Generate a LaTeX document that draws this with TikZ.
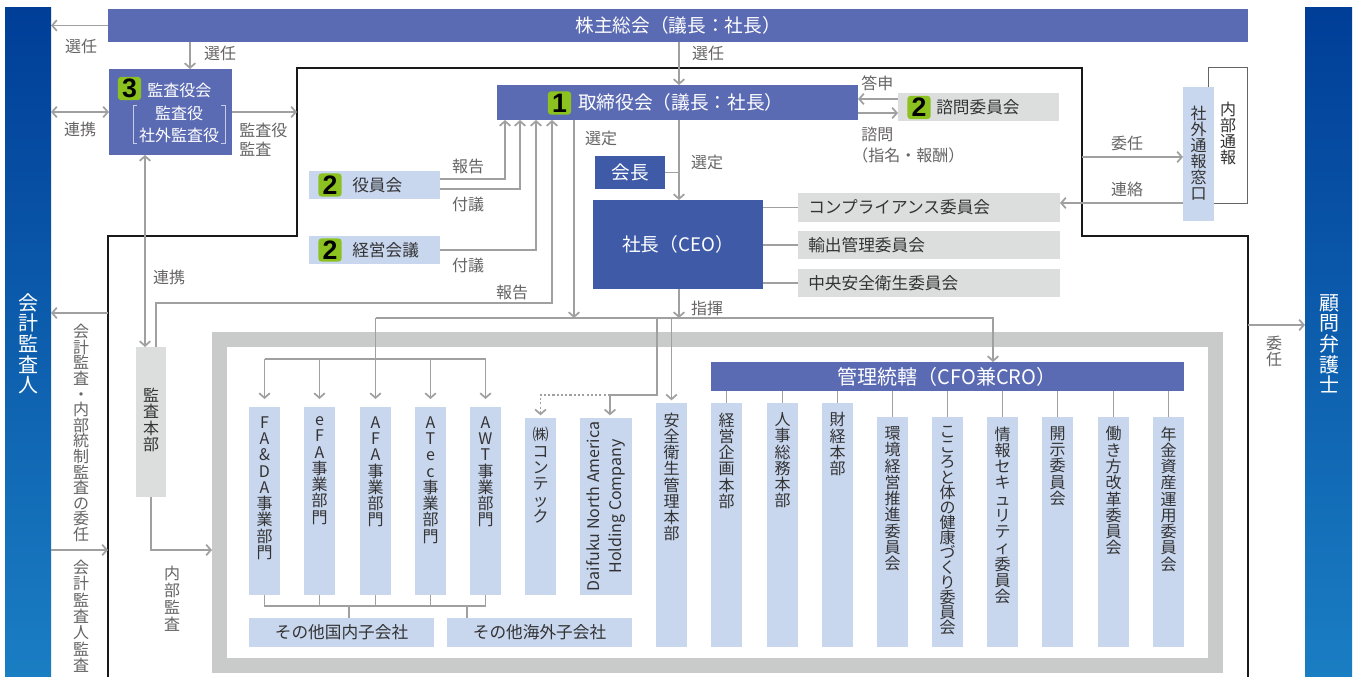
\documentclass[tikz,border=0pt]{standalone}
\usepackage{fontspec}
\setmainfont{Noto Sans CJK JP}
\newfontfamily\badgefont{Liberation Sans}
\usetikzlibrary{arrows.meta}
\definecolor{topblue}{HTML}{5B6BB3}
\definecolor{ceoblue}{HTML}{3F5BA8}
\definecolor{lblue}{HTML}{C8D6EE}
\definecolor{lgray}{HTML}{DCDDDD}
\definecolor{fgray}{HTML}{C9CACA}
\definecolor{cgray}{HTML}{A0A0A0}
\definecolor{tgray}{HTML}{666464}
\definecolor{tdark}{HTML}{333333}
\definecolor{bgreen}{HTML}{8CC21F}
\definecolor{sidetop}{HTML}{003E98}
\definecolor{sidebot}{HTML}{1A7EC3}
\definecolor{brk}{HTML}{C5CBE8}
\makeatletter
\newcommand\vtext[2][12.2pt]{\vbox{\baselineskip=#1\lineskiplimit=-20pt\lineskip=0pt\@tfor\vt@c:=#2\do{\hbox to 1em{\hss\vt@c\hss}}}}
\makeatother
\tikzset{
  wh/.style 2 args={minimum width=#1*0.75pt, minimum height=#2*0.75pt},
  box/.style={inner sep=0pt, outer sep=0pt, draw=none},
  dblue/.style={box, fill=topblue, text=white},
  cblue/.style={box, fill=ceoblue, text=white},
  lbbox/.style={box, fill=lblue, text=tdark},
  lgbox/.style={box, fill=lgray, text=tdark},
  conn/.style={draw=cgray, line width=1.3pt},
  arr/.style={conn, -{Straight Barb[length=3.5pt,width=8pt]}},
  darr/.style={conn, {Straight Barb[length=3.5pt,width=8pt]}-{Straight Barb[length=3.5pt,width=8pt]}},
  dotline/.style={dash pattern=on 1.6pt off 1.6pt},
  outl/.style={draw=black!90, line width=1.2pt},
  lbl/.style={text=tgray, inner sep=0pt, font=\fontsize{12pt}{12.2pt}\selectfont},
  btext/.style={text=tdark, inner sep=0pt, font=\fontsize{12.5pt}{14pt}\selectfont},
  wtext/.style={text=white, inner sep=0pt, font=\fontsize{12pt}{14pt}\selectfont},
  coltext/.style={text=tdark, inner sep=0pt, font=\fontsize{12pt}{12.2pt}\selectfont},
  badge/.style={fill=bgreen, rounded corners=2.5pt, minimum size=17.5pt, inner sep=0pt, text=black, font=\badgefont\bfseries\fontsize{20pt}{20pt}\selectfont},
  bracket/.style={draw=brk, line width=0.6pt},
}
\newcommand\colbox[5]{%
  \node[lbbox, wh={31}{#4}, anchor=north west] (#1) at (#2,#3) {};
  \node[coltext, anchor=north] at ([yshift=-7pt]#1.north) {\vtext{#5}};}
\begin{document}
\begin{tikzpicture}[x=0.75pt,y=-0.75pt]
\useasboundingbox (0,0) rectangle (1356,677);
\fill[white] (0,0) rectangle (1356,677);

% company outline
\draw[outl] (108,677) -- (108,236) -- (297,236) -- (297,68) -- (1082,68) -- (1082,236) -- (1248,236) -- (1248,677);

% side bars
\node[box, top color=sidetop, bottom color=sidebot, wh={46}{669}, anchor=north west] (aud) at (5,8) {};
\node[text=white, inner sep=0pt, font=\fontsize{15pt}{15pt}\selectfont, anchor=north] at (28,293) {\vtext[15.5pt]{会計監査人}};
\node[box, top color=sidetop, bottom color=sidebot, wh={47}{669}, anchor=north west] (law) at (1305,8) {};
\node[text=white, inner sep=0pt, font=\fontsize{15pt}{15pt}\selectfont, anchor=north] at (1329,294) {\vtext[15.5pt]{顧問弁護士}};

% shareholders meeting
\node[dblue, wh={1140}{33}, anchor=north west, font=\fontsize{14pt}{16pt}\selectfont] (agm) at (108,9) {株主総会（議長：社長）};

% audit & supervisory board
\node[dblue, wh={123}{86}, anchor=north west] (kansa) at (109,69) {};
\node[badge] at (129.5,88.5) {3};
\node[wtext, anchor=west] at (147,90) {監査役会};
\node[wtext] at (179,113) {監査役};
\node[wtext] at (179,135) {社外監査役};
\draw[bracket] (137,105) -- (133,105) -- (133,143) -- (137,143);
\draw[bracket] (221,105) -- (225,105) -- (225,143) -- (221,143);

% board of directors
\node[dblue, wh={361}{35}, anchor=north west] (board) at (497,85) {};
\node[badge] at (559.5,103) {1};
\node[text=white, inner sep=0pt, anchor=west, font=\fontsize{14pt}{16pt}\selectfont] at (578,102.5) {取締役会（議長：社長）};

% advisory committee
\node[lgbox, wh={161}{28}, anchor=north west] (advisory) at (898,93) {};
\node[badge] at (919,107.5) {2};
\node[btext, anchor=west] at (936,107.5) {諮問委員会};

% officers / management meeting
\node[lbbox, wh={131}{28}, anchor=north west] (officers) at (309,171) {};
\node[badge] at (330,185) {2};
\node[btext, anchor=west] at (352,185) {役員会};
\node[lbbox, wh={131}{28}, anchor=north west] (mgmt) at (309,236) {};
\node[badge] at (330,250) {2};
\node[btext, anchor=west] at (352,250) {経営会議};

% chairman / president
\node[cblue, wh={70}{33}, anchor=north west, font=\fontsize{14pt}{16pt}\selectfont] (chair) at (595,156) {会長};
\node[cblue, wh={170}{89}, anchor=north west, font=\fontsize{14pt}{16pt}\selectfont] (ceo) at (593,200) {社長（CEO）};

% committees under CEO
\node[lgbox, wh={262}{29}, anchor=north west] (comp) at (798,193) {};
\node[btext, anchor=west] at (808,207.5) {コンプライアンス委員会};
\node[lgbox, wh={262}{28}, anchor=north west] (export) at (798,231) {};
\node[btext, anchor=west] at (808,245) {輸出管理委員会};
\node[lgbox, wh={262}{28}, anchor=north west] (safetyc) at (798,269) {};
\node[btext, anchor=west] at (808,283) {中央安全衛生委員会};

% whistleblowing
\node[draw=tgray, line width=0.9pt, fill=white, wh={39}{136}, anchor=north west] (internal) at (1208,67) {};
\node[coltext, anchor=north] at (1228,102) {\vtext[12pt]{内部通報}};
\node[lbbox, wh={31}{134}, anchor=north west] (hotline) at (1183,87) {};
\node[coltext, anchor=north] at (1198.5,106) {\vtext[12pt]{社外通報窓口}};

% internal audit dept
\node[lgbox, wh={30}{150}, anchor=north west] (iaudit) at (136,347) {};
\node[coltext, anchor=north] at (151,388) {\vtext{監査本部}};

% gray frame
\draw[draw=fgray, line width=11.25pt] (219.5,339.5) rectangle (1215.5,665);

% divisions
\colbox{fada}{249}{407}{188}{FA\&DA事業部門}
\colbox{efa}{304}{407}{188}{eFA事業部門}
\colbox{afa}{360}{407}{188}{AFA事業部門}
\colbox{atec}{415}{407}{188}{ATec事業部門}
\colbox{awt}{470}{407}{188}{AWT事業部門}
\colbox{contec}{525}{418}{177}{㈱コンテック}
\node[lbbox, wh={52}{177}, anchor=north west] (dna) at (580,418) {};
\node[coltext, rotate=90, align=center, font=\fontsize{12pt}{16.5pt}\selectfont] at (dna.center) {Daifuku North America\\Holding Company};
\node[lbbox, wh={185}{29}, anchor=north west, font=\fontsize{12.5pt}{14pt}\selectfont] (domestic) at (249,618) {その他国内子会社};
\node[lbbox, wh={185}{29}, anchor=north west, font=\fontsize{12.5pt}{14pt}\selectfont] (overseas) at (447,618) {その他海外子会社};

\colbox{safety}{656}{403}{244}{安全衛生管理本部}

% CFO/CRO group
\node[dblue, wh={473}{29}, anchor=north west] (ctrl) at (711,362) {};
\node[text=white, inner sep=0pt, font=\fontsize{15pt}{16pt}\selectfont] at (947,376.5) {管理統轄（CFO兼CRO）};
\colbox{plan}{711}{403}{244}{経営企画本部}
\colbox{hr}{767}{403}{244}{人事総務本部}
\colbox{fin}{822}{403}{244}{財経本部}
\colbox{env}{877}{417}{230}{環境経営推進委員会}
\node[lbbox, wh={31}{230}, anchor=north west] (health) at (932,417) {};
\node[coltext, anchor=north] at ([yshift=-7pt]health.north) {\vtext[11.3pt]{こころと体の健康づくり委員会}};
\colbox{isec}{987}{417}{230}{情報セキュリティ委員会}
\colbox{disc}{1042}{417}{230}{開示委員会}
\colbox{work}{1098}{417}{230}{働き方改革委員会}
\colbox{pension}{1153}{417}{230}{年金資産運用委員会}

% ---------- connectors ----------
\draw[arr] (agm.west) -- (aud.east |- agm.west);
\node[lbl] at (81,46) {選任};
\draw[arr] (agm.south -| 190,0) -- (kansa.north -| 190,0);
\node[lbl] at (220,53) {選任};
\draw[darr] (aud.east |- 0,112) -- (kansa.west |- 0,112);
\node[lbl] at (80,129) {連携};
\coordinate (olA) at (297,112);
\draw[arr] (kansa.east |- olA) -- (olA);
\node[lbl, anchor=west] at (239,130) {監査役};
\node[lbl, anchor=west] at (239,149) {監査};

\draw[arr] (agm.south -| 679,0) -- (board.north -| 679,0);
\node[lbl] at (708,53) {選任};
\draw[arr] (advisory.west |- 0,99) -- (board.east |- 0,99);
\draw[arr] (board.east |- 0,113) -- (advisory.west |- 0,113);
\node[lbl, anchor=west] at (861,83) {答申};
\node[lbl, anchor=west] at (861,134) {諮問};
\node[lbl, anchor=west] at (852,155) {（指名・報酬）};

\draw[arr] (officers.east |- 0,179) -| (board.south -| 505,0);
\draw[arr] (officers.east |- 0,189) -| (board.south -| 520,0);
\draw[arr] (mgmt.east) -| (board.south -| 536,0);
\draw[arr] (iaudit.north -| 156,0) |- (552,303) -- (board.south -| 552,0);
\node[lbl] at (468,166) {報告};
\node[lbl] at (468,204) {付議};
\node[lbl] at (468,265) {付議};
\node[lbl] at (512,292) {報告};

\draw[darr] (kansa.south -| 145,0) -- (iaudit.north -| 145,0);
\node[lbl] at (169,277) {連携};
\coordinate (frL) at (212,550);
\draw[arr] (iaudit.south) |- (frL);
\node[lbl, anchor=north] at (172,566) {\vtext[12.8pt]{内部監査}};

\coordinate (olL1) at (108,313);
\draw[arr] (olL1) -- (aud.east |- olL1);
\node[lbl, anchor=north] at (81,324) {\vtext[11.7pt]{会計監査・内部統制監査の委任}};
\coordinate (olL2) at (108,550);
\draw[arr] (aud.east |- olL2) -- (olL2);
\node[lbl, anchor=north] at (81,560) {\vtext{会計監査人監査}};
\coordinate (olR) at (1248,325);
\draw[arr] (olR) -- (law.west |- olR);
\node[lbl, anchor=north] at (1274,336) {\vtext[11.5pt]{委任}};

\draw[arr] (board.south -| 679,0) -- (ceo.north -| 679,0);
\draw[conn] (chair.east) -- (679,172.5);
\node[lbl] at (707,162) {選定};
\draw[arr] (board.south -| 574,0) -- (574,318);
\node[lbl] at (601,138) {選定};
\draw[arr] (ceo.south -| 679,0) -- (679,318);
\node[lbl] at (707,308) {指揮};

\foreach \b in {comp,export,safetyc} \draw[conn] (ceo.east |- \b.west) -- (\b.west);

\coordinate (olH) at (1082,157);
\draw[arr] (olH) -- (hotline.west |- olH);
\node[lbl] at (1127,143) {委任};
\draw[arr] (hotline.west |- 0,203) -- (comp.east |- 0,203);
\node[lbl] at (1127,189) {連絡};

% distribution
\draw[arr] (afa.north |- 0,318) -| (ctrl.north -| 993,0);
\draw[arr, shorten >=6pt] (afa.north |- 0,318) -- (afa.north);
\draw[conn] (fada.north |- 0,359) -- (awt.north |- 0,359);
\foreach \b in {fada,efa,atec,awt} \draw[arr, shorten >=6pt] (\b.north |- 0,359) -- (\b.north);
\draw[conn] (657,318) |- (610,395);
\draw[arr, shorten >=2pt] (610,395) -- (dna.north -| 610,0);
\draw[arr, dotline, shorten >=2pt] (610,395) -| (contec.north);
\draw[arr, shorten >=2pt] (safety.north |- 0,318) -- (safety.north);
\foreach \b in {plan,hr,fin,env,health,isec,disc,work,pension} \draw[conn] (\b.north |- ctrl.south) -- (\b.north);

\draw[conn] (fada.south) |- (awt.south |- 0,606) -- (awt.south);
\foreach \b in {efa,afa,atec} \draw[conn] (\b.south) -- (\b.south |- 0,606);
\draw[conn] (domestic.north -| 349,0) -- (349,606);
\draw[conn] (overseas.north -| 467,0) -- (467,606);
\end{tikzpicture}
\end{document}
